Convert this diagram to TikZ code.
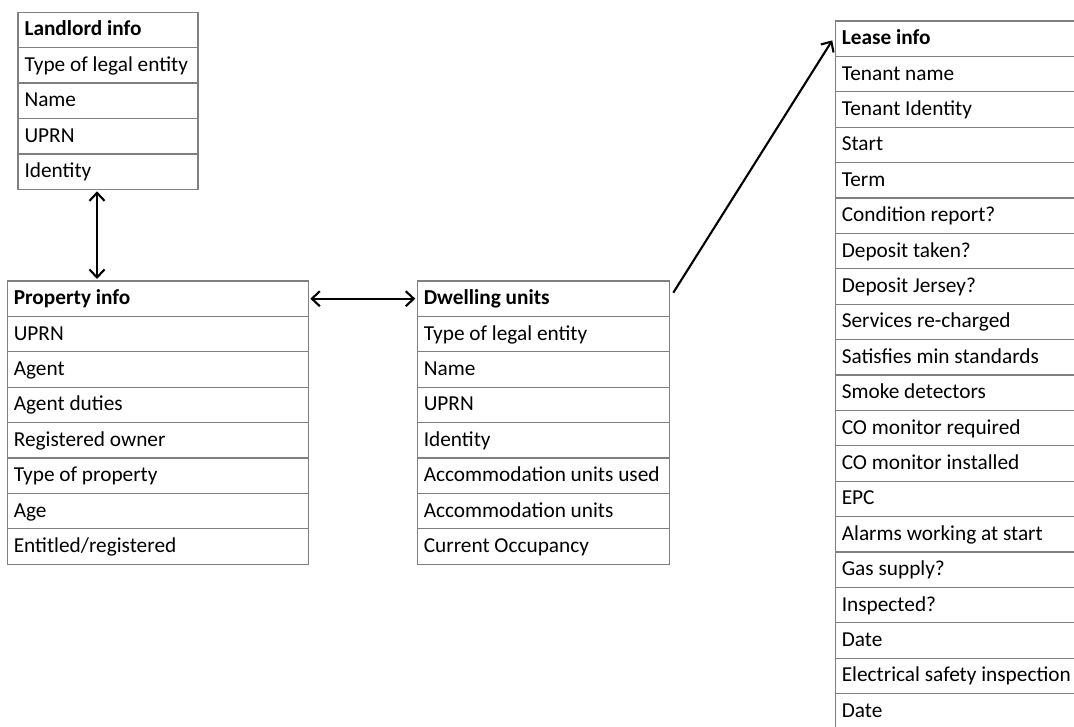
\documentclass[tikz,border=0pt]{standalone}
\usepackage{fontspec}
\setmainfont{Carlito}
\usetikzlibrary{positioning, arrows.meta}

\begin{document}
\begin{tikzpicture}[x=1pt, y=-1pt, node distance=0pt,
  row/.style = {draw=black!50, line width=1.3pt, rectangle, outer sep=0pt, inner xsep=6.5pt,
    minimum height=35.4pt, text height=16pt, text depth=4pt, align=flush left,
    font=\fontsize{21.3}{25}\selectfont},
  title/.style = {font=\fontsize{21.3}{25}\selectfont\bfseries},
  landrow/.style = {row, text width=167pt},
  proprow/.style = {row, text width=288pt},
  dwellrow/.style = {row, text width=239pt},
  leaserow/.style = {row, text width=292pt},
  link/.style = {line width=2.1pt, shorten <=2pt, shorten >=2pt},
  >={Straight Barb[length=8pt, width=15pt]}]
\useasboundingbox (0,0) rectangle (1074,727);
\clip (0,0) rectangle (1074,727);

% landlord
\node[landrow, title, anchor=north west] (land) at (18,12.3) {Landlord info};
\node[landrow] (land1) [below=of land]  {Type of legal entity};
\node[landrow] (land2) [below=of land1] {Name};
\node[landrow] (land3) [below=of land2] {UPRN};
\node[landrow] (land4) [below=of land3] {Identity};

% property
\node[proprow, title, anchor=north west] (prop) at (7.3,281) {Property info};
\node[proprow] (prop1) [below=of prop]  {UPRN};
\node[proprow] (prop2) [below=of prop1] {Agent};
\node[proprow] (prop3) [below=of prop2] {Agent duties};
\node[proprow] (prop4) [below=of prop3] {Registered owner};
\node[proprow] (prop5) [below=of prop4] {Type of property};
\node[proprow] (prop6) [below=of prop5] {Age};
\node[proprow] (prop7) [below=of prop6] {Entitled/registered};

% dwelling
\node[dwellrow, title, anchor=north west] (dwell) at (417.3,281) {Dwelling units};
\node[dwellrow] (dwell1) [below=of dwell]  {Type of legal entity};
\node[dwellrow] (dwell2) [below=of dwell1] {Name};
\node[dwellrow] (dwell3) [below=of dwell2] {UPRN};
\node[dwellrow] (dwell4) [below=of dwell3] {Identity};
\node[dwellrow] (dwell5) [below=of dwell4] {Accommodation units used};
\node[dwellrow] (dwell6) [below=of dwell5] {Accommodation units};
\node[dwellrow] (dwell7) [below=of dwell6] {Current Occupancy};

% lease
\node[leaserow, title, anchor=north west] (lease) at (835.3,21) {Lease info};
\node[leaserow] (lease1)  [below=of lease]   {Tenant name};
\node[leaserow] (lease2)  [below=of lease1]  {Tenant Identity};
\node[leaserow] (lease3)  [below=of lease2]  {Start};
\node[leaserow] (lease4)  [below=of lease3]  {Term};
\node[leaserow] (lease5)  [below=of lease4]  {Condition report?};
\node[leaserow] (lease6)  [below=of lease5]  {Deposit taken?};
\node[leaserow] (lease7)  [below=of lease6]  {Deposit Jersey?};
\node[leaserow] (lease8)  [below=of lease7]  {Services re-charged};
\node[leaserow] (lease9)  [below=of lease8]  {Satisfies min standards};
\node[leaserow] (lease10) [below=of lease9]  {Smoke detectors};
\node[leaserow] (lease11) [below=of lease10] {CO monitor required};
\node[leaserow] (lease12) [below=of lease11] {CO monitor installed};
\node[leaserow] (lease13) [below=of lease12] {EPC};
\node[leaserow] (lease14) [below=of lease13] {Alarms working at start};
\node[leaserow] (lease15) [below=of lease14] {Gas supply?};
\node[leaserow] (lease16) [below=of lease15] {Inspected?};
\node[leaserow] (lease17) [below=of lease16] {Date};
\node[leaserow] (lease18) [below=of lease17] {Electrical safety inspection};
\node[leaserow] (lease19) [below=of lease18] {Date};

\draw[link, <->] ([xshift=-11pt]land4.south) -- ([xshift=-11pt]land4.south |- prop.north);
\draw[link, <->] (prop.east) -- (dwell.west);
\draw[link, ->, shorten <=0pt] ([xshift=4pt, yshift=6pt]dwell.east) -- ([xshift=-2pt]lease.west);

\end{tikzpicture}
\end{document}
